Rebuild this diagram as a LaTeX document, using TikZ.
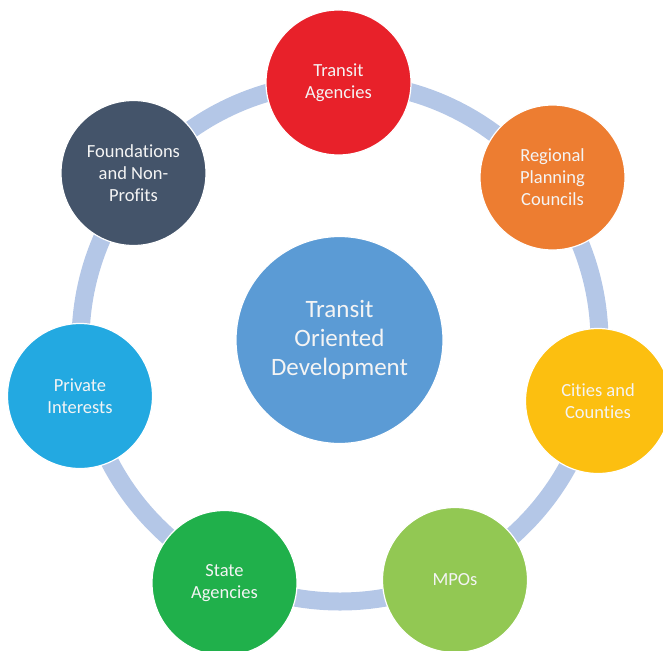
\documentclass[tikz,border=0pt]{standalone}
\usepackage{fontspec}
\setmainfont{Carlito}[Ligatures=NoCommon]
\definecolor{ringblue}{HTML}{B4C7E7}
\definecolor{cRed}{HTML}{E8212A}
\definecolor{cOrange}{HTML}{ED7D31}
\definecolor{cYellow}{HTML}{FCBF10}
\definecolor{cLime}{HTML}{92C853}
\definecolor{cGreen}{HTML}{20B04B}
\definecolor{cSky}{HTML}{23A9E1}
\definecolor{cSlate}{HTML}{44546A}
\definecolor{cCenter}{HTML}{5B9BD5}
\definecolor{txt}{HTML}{F4F4F4}
\begin{document}
\begin{tikzpicture}[x=1pt,y=-1pt,
  ring/.style={draw=ringblue,line width=18pt},
  outer/.style={circle,draw=white,line width=1.2pt,minimum size=145pt,inner sep=0pt,
    text=txt,align=center,font=\fontsize{18.5}{22}\selectfont},
  hub/.style={circle,draw=white,line width=1.2pt,minimum size=207pt,inner sep=0pt,
    fill=cCenter,text=txt,align=center,font=\fontsize{25}{29}\selectfont}]
\useasboundingbox (0,0) rectangle (663,650);
\coordinate (rc) at (340,342);
\draw[ring] (rc) circle[radius=259.5pt];
\node[hub] (tod) at (339.5,340) {Transit\\Oriented\\Development};
\node[outer,fill=cRed] (ta) at (338.5,82.5) {Transit\\Agencies};
\node[outer,fill=cOrange] (rpc) at (552.5,177.5) {Regional\\Planning\\Councils};
\node[outer,fill=cYellow] (cc) at (598,401) {Cities and\\Counties};
\node[outer,fill=cLime] (mpo) at (455,580) {MPOs};
\node[outer,fill=cGreen] (sa) at (224.5,583) {State\\Agencies};
\node[outer,fill=cSky] (pi) at (80,396) {Private\\Interests};
\node[outer,fill=cSlate] (fn) at (133.5,173) {Foundations\\and Non-\\Profits};
\end{tikzpicture}
\end{document}
